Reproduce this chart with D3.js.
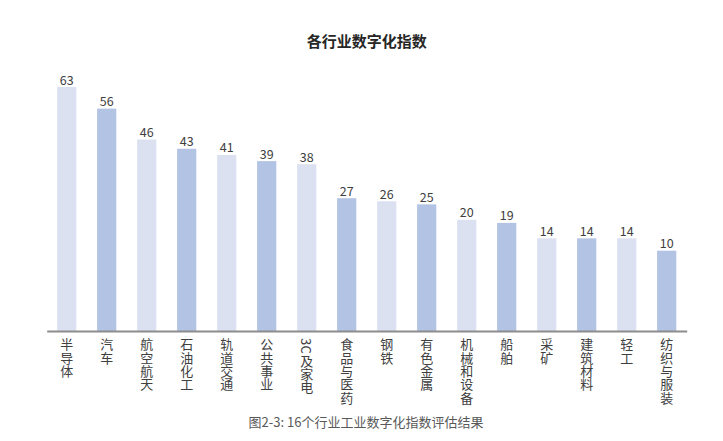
<!DOCTYPE html>
<html><head><meta charset="utf-8">
<script src="https://cdn.jsdelivr.net/npm/d3@7"></script>
<style>
html,body{margin:0;padding:0;background:#fff;}
svg{display:block;font-family:"Noto Sans CJK SC","Noto Sans",sans-serif;}
</style></head>
<body>
<svg id="chart" width="723" height="441"></svg>
<script>
const categories = ["半导体","汽车","航空航天","石油化工","轨道交通","公共事业","3C及家电","食品与医药","钢铁","有色金属","机械和设备","船舶","采矿","建筑材料","轻工","纺织与服装"];
const values = [63,56,46,43,41,39,38,27,26,25,20,19,14,14,14,10];
const title = "各行业数字化指数";
const caption = "图2-3: 16个行业工业数字化指数评估结果";
const colors = ["#dce1f1","#b3c3e3"];

const svg = d3.select("#chart");
const x = d3.scaleBand().domain(categories).range([46.7, 686.7]).paddingInner(0.52).paddingOuter(0.26);
const y = d3.scaleLinear().domain([-16, 63]).range([331, 87]);

svg.append("text").attr("x", 366.7).attr("y", 46.5).attr("text-anchor","middle")
  .attr("font-size", 15).attr("font-weight","bold").attr("fill","#262626").text(title);

svg.selectAll("rect.bar").data(values).join("rect").attr("class","bar")
  .attr("x", (d,i)=>x(categories[i])).attr("width", x.bandwidth())
  .attr("y", d=>y(d)).attr("height", d=>y(-16)-y(d))
  .attr("fill", (d,i)=>colors[i%2]);

svg.selectAll("text.val").data(values).join("text").attr("class","val")
  .attr("x", (d,i)=>x(categories[i])+x.bandwidth()/2).attr("y", d=>y(d)-2.5)
  .attr("text-anchor","middle").attr("font-size", 12.5).attr("fill","#404040").text(d=>d);

const axis = svg.append("g").attr("transform","translate(0,331)")
  .call(d3.axisBottom(x).tickSize(0).tickFormat(""));
axis.select(".domain").attr("stroke","#8c8c8c").attr("stroke-width",2);

svg.selectAll("text.cat").data(categories).join("text").attr("class","cat")
  .attr("x", d=>x(d)+x.bandwidth()/2).attr("y", 338)
  .style("writing-mode","vertical-rl").attr("font-size", 13).attr("fill","#404040")
  .attr("letter-spacing", 0.3)
  .text(d=>d);

svg.append("text").attr("x", 366).attr("y", 427).attr("text-anchor","middle")
  .attr("font-size", 13).attr("fill","#595959").text(caption);
</script>
</body></html>
